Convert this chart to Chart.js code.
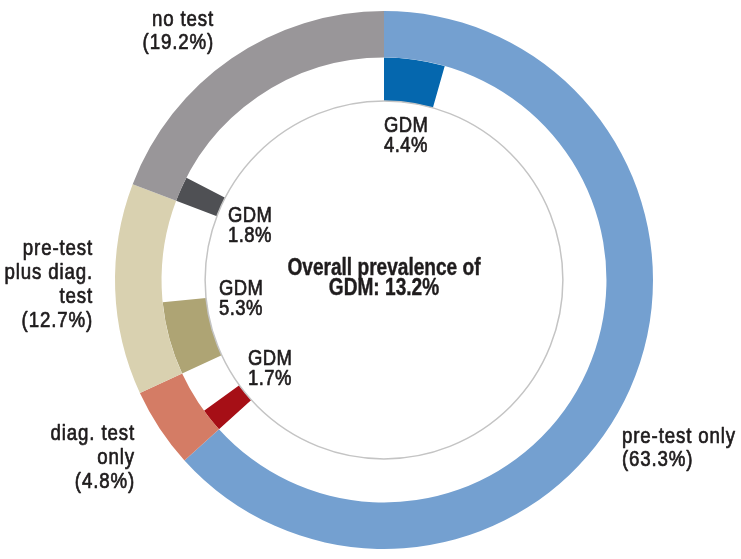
<!DOCTYPE html>
<html>
<head>
<meta charset="utf-8">
<script src="https://cdn.jsdelivr.net/npm/chart.js@4"></script>
<style>
  html, body { margin: 0; padding: 0; background: #fff; }
</style>
</head>
<body>
<canvas id="chart" width="741" height="559"></canvas>
<script>
// outer ring: test groups (% of all women)
const groups = ['pre-test only', 'diag. test only', 'pre-test plus diag. test', 'no test'];
const groupShares = [63.3, 4.8, 12.7, 19.2];
// inner ring: GDM cases inside each group (% of all women)
const gdmShares = [4.4, 1.7, 5.3, 1.8];
const overallGdm = 13.2;

const groupColors = ['#74a0d0', '#d47c65', '#d9d1b0', '#999699'];
const gdmColors = ['#0567ae', '#a60f16', '#aea474', '#4f5054'];

// how the group labels are broken into lines
const groupLines = [['pre-test only'], ['diag. test', 'only'], ['pre-test', 'plus diag.', 'test'], ['no test']];
const groupLabelPos = [
  { x: 622, y: 443, align: 'left', lh: 23 },
  { x: 135, y: 440, align: 'right', lh: 24 },
  { x: 93, y: 255, align: 'right', lh: 24 },
  { x: 214, y: 26, align: 'right', lh: 23 }
];
const gdmLabelPos = [
  { x: 384, y: 132 },
  { x: 248, y: 365 },
  { x: 219, y: 295 },
  { x: 228, y: 222 }
];

// inner ring = GDM slice followed by an empty gap for the rest of the group
const innerData = [];
const innerColors = [];
groupShares.forEach((v, i) => {
  innerData.push(gdmShares[i], +(v - gdmShares[i]).toFixed(1));
  innerColors.push(gdmColors[i], 'rgba(0,0,0,0)');
});

const FONT = '"Liberation Sans", Arial, sans-serif';
const TEXT = '#1f1c1d';

// condensed look: squeeze the text horizontally, a light stroke gives medium weight
function squeezed(ctx, t, x, y, align, sx, stroke) {
  ctx.save();
  ctx.translate(x, y);
  ctx.scale(sx, 1);
  ctx.textAlign = align;
  ctx.fillText(t, 0, 0);
  if (stroke) {
    ctx.lineWidth = stroke;
    ctx.strokeText(t, 0, 0);
  }
  ctx.restore();
}

const labelsPlugin = {
  id: 'labels',
  afterDraw(chart) {
    const ctx = chart.ctx;
    const arc = chart.getDatasetMeta(1).data[0];
    // thin grey circle on the inside of the GDM ring
    ctx.save();
    ctx.beginPath();
    ctx.arc(arc.x, arc.y, arc.innerRadius, 0, Math.PI * 2);
    ctx.strokeStyle = '#c4c4c4';
    ctx.lineWidth = 1.5;
    ctx.stroke();

    ctx.fillStyle = TEXT;
    ctx.strokeStyle = TEXT;
    ctx.lineJoin = 'round';
    ctx.textBaseline = 'alphabetic';
    ctx.font = '22px ' + FONT;
    if ('letterSpacing' in ctx) ctx.letterSpacing = '1px';

    groupLines.forEach((lines, i) => {
      const p = groupLabelPos[i];
      const all = lines.concat('(' + groupShares[i].toFixed(1) + '%)');
      all.forEach((t, k) => squeezed(ctx, t, p.x, p.y + k * p.lh, p.align, 0.85, 0.7));
    });

    if ('letterSpacing' in ctx) ctx.letterSpacing = '0.5px';
    gdmShares.forEach((v, i) => {
      const p = gdmLabelPos[i];
      squeezed(ctx, 'GDM', p.x, p.y, 'left', 0.84, 0.7);
      squeezed(ctx, v.toFixed(1) + '%', p.x, p.y + 20, 'left', 0.84, 0.7);
    });

    ctx.font = 'bold 23px ' + FONT;
    if ('letterSpacing' in ctx) ctx.letterSpacing = '0px';
    squeezed(ctx, 'Overall prevalence of', arc.x, 275, 'center', 0.83, 0.4);
    squeezed(ctx, 'GDM: ' + overallGdm.toFixed(1) + '%', arc.x, 295, 'center', 0.83, 0.4);
    ctx.restore();
  }
};

new Chart(document.getElementById('chart'), {
  type: 'doughnut',
  data: {
    labels: groups,
    datasets: [
      {
        data: groupShares,
        backgroundColor: groupColors,
        borderWidth: 0,
        weight: 47
      },
      {
        data: innerData,
        backgroundColor: innerColors,
        borderWidth: 0,
        weight: 44
      }
    ]
  },
  options: {
    responsive: false,
    animation: false,
    radius: 269,
    cutout: '66.5%',
    layout: { padding: { left: 27, right: 0, top: 2, bottom: 1 } },
    plugins: {
      legend: { display: false },
      tooltip: { enabled: false }
    }
  },
  plugins: [labelsPlugin]
});
</script>
</body>
</html>
